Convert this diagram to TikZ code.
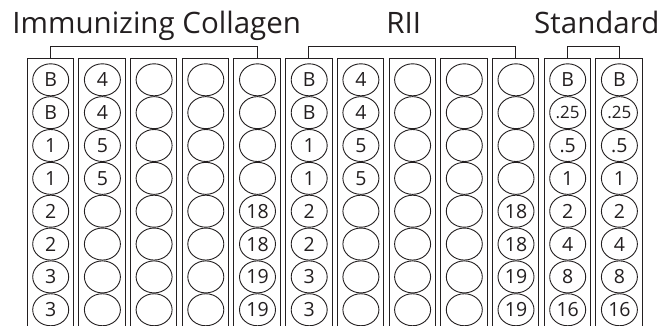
\documentclass[tikz,border=0pt]{standalone}
\usepackage{fontspec}
\setmainfont{Open Sans}
\usetikzlibrary{shapes.geometric}
\definecolor{ink}{HTML}{231F20}
\newcommand\smtxt{\fontsize{17}{17}\selectfont}
\begin{document}
\begin{tikzpicture}[x=1pt,y=-1pt,
  colbox/.style={rectangle,minimum width=46pt,minimum height=268pt,inner sep=0pt,anchor=north},
  well/.style={ellipse,draw=ink,line width=0.9pt,minimum width=36pt,minimum height=32pt,inner sep=0pt,text=ink,font=\fontsize{19.5}{19.5}\selectfont},
  title/.style={anchor=base,text=ink,font=\fontsize{29.5}{29.5}\selectfont,inner sep=0pt},
  frame/.style={draw=ink,line width=0.9pt},
  bracket/.style={draw=ink,line width=0.9pt}]
\useasboundingbox (0,0) rectangle (672,326);
\fill[white] (0,0) rectangle (672,326);
% columns
\foreach \c in {1,...,12}{
  \node[colbox] (c\c) at ({50.3+(\c-1)*51.7},58.3) {};
  \draw[frame] (c\c.south west) -- (c\c.north west) -- (c\c.north east) -- (c\c.south east);
}
% wells
\foreach \c/\l in {1/{B,B,1,1,2,2,3,3},2/{4,4,5,5,,,,},3/{,,,,,,,},4/{,,,,,,,},5/{,,,,18,18,19,19},
                   6/{B,B,1,1,2,2,3,3},7/{4,4,5,5,,,,},8/{,,,,,,,},9/{,,,,,,,},10/{,,,,18,18,19,19},
                   11/{B,{\smtxt .25},.5,1,2,4,8,16},12/{B,{\smtxt .25},.5,1,2,4,8,16}}{
  \foreach \t [count=\r] in \l {
    \node[well] (w\c-\r) at ({50.7+(\c-1)*51.7},{79.8+(\r-1)*32.85}) {\t};
  }
}
% brackets
\draw[bracket] (c1.north) -- ++(0,-12.3) -| (c5.north);
\draw[bracket] (c6.north) -- ++(0,-12.3) -| (c10.north);
\draw[bracket] (c11.north) -- ++(0,-12.3) -| (c12.north);
% titles
\node[title] (t1) at (156.7,33.3) {Immunizing Collagen};
\node[title] (t2) at (403.8,33.3) {RII};
\node[title] (t3) at (596.8,33.3) {Standard};
\end{tikzpicture}
\end{document}
